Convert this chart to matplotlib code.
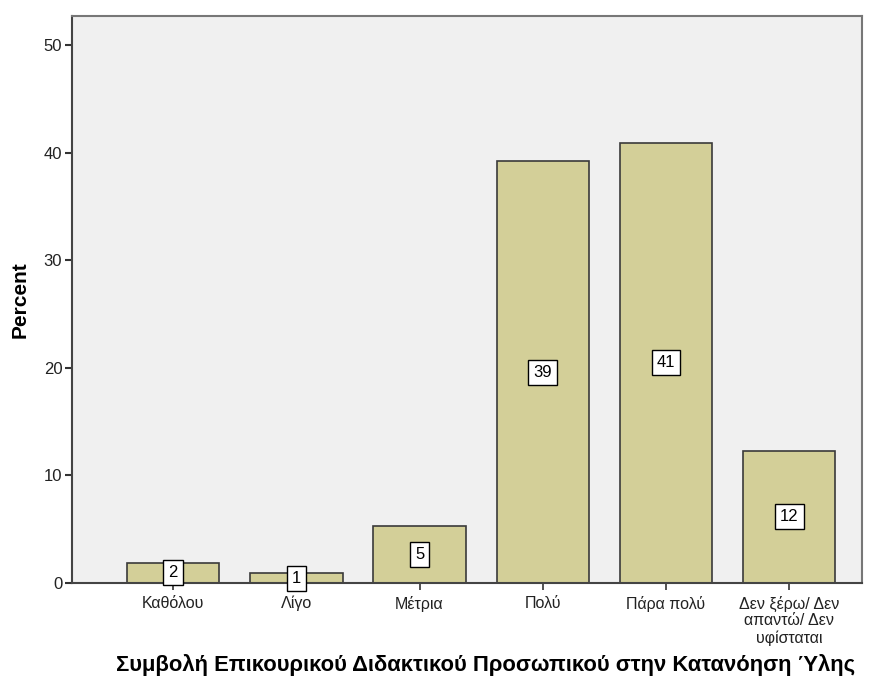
import matplotlib.pyplot as plt

categories = ['Καθόλου', 'Λίγο', 'Μέτρια', 'Πολύ', 'Πάρα πολύ', 'Δεν ξέρω/ Δεν\nαπαντώ/ Δεν\nυφίσταται']
percent = [1.9, 0.9, 5.3, 39.2, 40.9, 12.3]
labels = ['2', '1', '5', '39', '41', '12']

plt.rcParams['font.family'] = ['Liberation Sans', 'DejaVu Sans']

fig = plt.figure(figsize=(8.76, 6.81), dpi=100)
ax = fig.add_axes([0.0822, 0.1439, 0.9018, 0.8326])
ax.set_facecolor('#F0F0F0')

x = range(len(categories))
ax.bar(x, percent, width=0.75, color='#D3CF98', edgecolor='#3a3a3a', linewidth=1.2, zorder=2)

for xi, v, lab in zip(x, percent, labels):
    ax.text(xi, v / 2, lab, ha='center', va='center', fontsize=12, zorder=4,
            bbox=dict(boxstyle='square,pad=0.3', facecolor='white', edgecolor='black', linewidth=1))

ax.set_xlim(-0.82, 5.59)
ax.set_ylim(0, 52.7)
ax.set_yticks([0, 10, 20, 30, 40, 50])
ax.set_xticks(list(x))
ax.set_xticklabels(categories, fontsize=11.5, color='#222222', linespacing=1.15)
ax.tick_params(axis='y', labelsize=12, length=5, width=1.5, color='#333333', labelcolor='#222222', pad=2)
ax.tick_params(axis='x', length=5, width=1.2, color='#333333', pad=4)

for side in ['left', 'bottom']:
    ax.spines[side].set_color('#444444')
    ax.spines[side].set_linewidth(1.5)
for side in ['top', 'right']:
    ax.spines[side].set_color('#777777')
    ax.spines[side].set_linewidth(1.5)

ax.set_ylabel('Percent', fontsize=15, fontweight='bold', labelpad=10)
fig.text(486 / 876, 1 - 665 / 681, 'Συμβολή Επικουρικού Διδακτικού Προσωπικού στην Κατανόηση Ύλης',
         fontsize=15.8, fontweight='bold', ha='center', va='center')

fig.savefig('out.png', dpi=100, facecolor='white')
